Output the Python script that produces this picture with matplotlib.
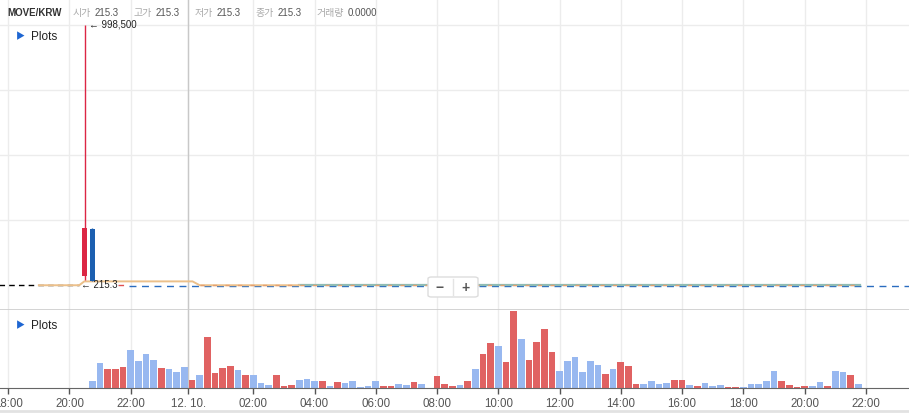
from datetime import datetime, timedelta
import matplotlib
matplotlib.use('Agg')
from matplotlib import pyplot as plt
from matplotlib.patches import FancyBboxPatch
import pandas as pd

plt.rcParams['font.family'] = ['Liberation Sans', 'Noto Sans CJK KR', 'DejaVu Sans']

# candles (15 min)
candle_time = [datetime(2024, 12, 9, 20, 30), datetime(2024, 12, 9, 20, 45)]
candle_open = [36000, 216000]
candle_high = [998500, 220000]
candle_low = [19000, 15000]
candle_close = [220000, 15000]

# volume bars, 15 min from 20:45
vol_start = datetime(2024, 12, 9, 20, 45)
volume = [7, 25, 19, 19, 21, 38, 27, 34, 28, 20,
          19, 16, 21, 8, 13, 51, 15, 20, 22, 18,
          13, 13, 5, 3, 13, 2, 3, 8, 9, 7,
          7, 2, 6, 5, 7, 1, 2, 7, 2, 2,
          4, 3, 6, 4, 0.4, 12, 4, 2, 3, 7,
          19, 34, 45, 42, 26, 77, 49, 28, 46, 59,
          36, 17, 27, 31, 16, 27, 23, 14, 19, 26,
          22, 4, 4, 7, 4, 5, 8, 8, 3, 2,
          5, 2, 3, 1, 1, 1, 4, 4, 7, 17,
          7, 3, 1, 2, 2, 6, 2, 17, 16, 13, 4]
# r = up (red), d = down (blue)
vol_dir = list('ddrrrddddr'
               'dddrdrrrrd'
               'rdddrrrddd'
               'rdrdddddrr'
               'ddrddrrrdr'
               'drrdrrdrrr'
               'rddddddrdr'
               'rrddddrrdr'
               'dddrrddddd'
               'rrrrddrddrd')

# price / moving average lines
ma_time = [datetime(2024, 12, 9, 19, 0), datetime(2024, 12, 9, 20, 19),
           datetime(2024, 12, 9, 20, 29), datetime(2024, 12, 10, 0, 1),
           datetime(2024, 12, 10, 0, 15), datetime(2024, 12, 10, 3, 30)]
ma_value = [215.3, 215.3, 15000, 15000, 215.3, 215.3]
teal_time = [datetime(2024, 12, 10, 3, 30), datetime(2024, 12, 10, 21, 48)]
teal_value = [900, 900]
pre_time = [datetime(2024, 12, 9, 17, 40), datetime(2024, 12, 9, 20, 19)]
pre_value = [0, 0]
last_price = 215.3
high_price = 998500

tick_times = [datetime(2024, 12, 9, 18), datetime(2024, 12, 9, 20), datetime(2024, 12, 9, 22),
              datetime(2024, 12, 9, 23, 52, 30)] + \
             [datetime(2024, 12, 10, h) for h in range(2, 24, 2)]
tick_labels = ['18:00', '20:00', '22:00', '12. 10.', '02:00', '04:00', '06:00', '08:00',
               '10:00', '12:00', '14:00', '16:00', '18:00', '20:00', '22:00']

header = [('시가', '215.3'), ('고가', '215.3'), ('저가', '215.3'), ('종가', '215.3'), ('거래량', '0.0000')]
header_x = [(73, 95), (134, 156), (195, 217), (256, 278), (317, 348)]

W, H = 909, 413


def px(x, y):
    return x / W, 1 - y / H


red_c = '#dc2644'
blue_c = '#1c5fb0'
vol_red = '#e06262'
vol_blue = '#98b8f0'
grid_c = '#ececec'

fig = plt.figure(figsize=(W / 100, H / 100), dpi=100)
ax = fig.add_axes([0, 103 / H, 1, 310 / H])
axv = fig.add_axes([0, 25 / H, 1, 78 / H])

xmin = datetime(2024, 12, 9, 17, 43, 54)
xmax = datetime(2024, 12, 10, 23, 24, 30)

for a in (ax, axv):
    a.set_xlim(xmin, xmax)
    a.set_xticks(tick_times)
    for t in tick_times:
        a.axvline(t, color=grid_c, lw=1, zorder=0)
    a.axvline(datetime(2024, 12, 9, 23, 52, 30), color='#c8c8c8', lw=1, zorder=0.5)
    for s in ('top', 'left', 'right'):
        a.spines[s].set_visible(False)

# main pane
ax.set_ylim(-94750, 1094365)
for v in [250000, 500000, 750000, 1000000]:
    ax.axhline(v, color=grid_c, lw=1, zorder=0)
ax.set_yticks([])
ax.set_xticklabels([])
ax.tick_params(axis='x', length=0)
ax.spines['bottom'].set_color('#cccccc')
ax.spines['bottom'].set_linewidth(1.2)

ax.plot(pre_time, pre_value, color='black', lw=1, ls=(0, (4, 3)), zorder=2)
ax.plot([datetime(2024, 12, 9, 21, 57), xmax], [last_price - 1500] * 2,
        color='#2a6cc0', lw=1, ls=(0, (5, 4)), zorder=2)
ax.plot([datetime(2024, 12, 9, 21, 36), datetime(2024, 12, 9, 21, 52)], [last_price + 2500] * 2,
        color='#e05050', lw=1, ls=(0, (4, 3)), zorder=2)
ax.plot(teal_time, teal_value, color='#8fbcb4', lw=1.6, zorder=3)
ax.plot(ma_time, ma_value, color='#ecc08a', lw=1.4, zorder=3)
ax.plot([datetime(2024, 12, 10, 0, 15), teal_time[1]], [last_price + 600] * 2,
        color='#e6a070', lw=1, ls=(0, (3, 6)), zorder=3.5)

cw = timedelta(minutes=15) * 0.6
for t, o, h, l, c in zip(candle_time, candle_open, candle_high, candle_low, candle_close):
    col = red_c if c >= o else blue_c
    ax.vlines(t, l, h, color=col, lw=1, zorder=4)
    ax.bar(t, abs(c - o), bottom=min(o, c), width=cw, color=col, zorder=5)

ax.annotate('\u2190 998,500', (candle_time[0], high_price), xytext=(3, 0),
            textcoords='offset points', fontsize=7, color='#222', va='center', ha='left')
ax.annotate('\u2190 215.3', (candle_time[0], last_price), xytext=(-2.5, 0),
            textcoords='offset points', fontsize=7, color='#222', va='center', ha='left', zorder=6)

# volume pane
times = pd.date_range(vol_start, periods=len(volume), freq='15min')
cols = [vol_red if d == 'r' else vol_blue for d in vol_dir]
axv.bar(times, volume, width=timedelta(minutes=15) * 0.87, color=cols, zorder=2)
axv.set_ylim(0, 78)
axv.set_yticks([])
axv.set_xticklabels(tick_labels, fontsize=8.3, color='#555')
axv.tick_params(axis='x', length=4, width=1, color='#555', pad=3)
axv.spines['bottom'].set_color('#666')

# header and labels
fig.text(*px(7, 13), 'MOVE/KRW', fontsize=7, fontweight='bold', color='#333', va='center')
for (lab, val), (x1, x2) in zip(header, header_x):
    fig.text(*px(x1, 13), lab, fontsize=7.2, color='#aaaaaa', va='center')
    fig.text(*px(x2, 13), val, fontsize=7, color='#555555', va='center')

for y in (37, 326):
    fig.text(*px(16, y), '\u25b6', fontsize=6.5, color='#1e66d2', va='center')
    fig.text(*px(31, y), 'Plots', fontsize=8.5, color='#222', va='center')

# zoom buttons
x0, y0 = px(428, 297)
fig.patches.append(FancyBboxPatch((x0, y0), 50 / W, 20 / H, boxstyle='round,pad=0,rounding_size=0.004',
                                  transform=fig.transFigure, facecolor='white', edgecolor='#dddddd',
                                  lw=1, zorder=10))
fig.add_artist(plt.Line2D([453 / W] * 2, [px(0, 295)[1], px(0, 279)[1]], color='#e4e4e4', lw=1,
                          transform=fig.transFigure, zorder=11))
fig.text(*px(440, 288), '\u2212', fontsize=10, fontweight='bold', color='#555', ha='center', va='center', zorder=12)
fig.text(*px(466, 288), '+', fontsize=10, fontweight='bold', color='#555', ha='center', va='center', zorder=12)

fig.add_artist(plt.Line2D([0, 1], [px(0, 411)[1]] * 2, color='#e2e2e2', lw=2, transform=fig.transFigure))

plt.savefig('out.png', dpi=100)
